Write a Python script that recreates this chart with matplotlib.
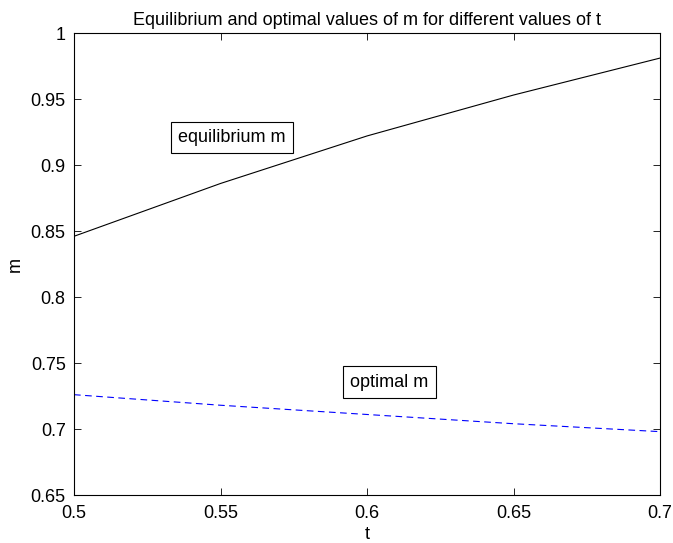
import matplotlib
matplotlib.use("Agg")
import matplotlib.pyplot as plt

plt.rcParams['font.family'] = ['Liberation Sans', 'DejaVu Sans']

t = [0.5, 0.55, 0.6, 0.65, 0.7]
m_equilibrium = [0.846, 0.886, 0.922, 0.953, 0.981]
m_optimal = [0.726, 0.718, 0.711, 0.704, 0.698]
xticks = [0.5, 0.55, 0.6, 0.65, 0.7]
yticks = [0.65, 0.7, 0.75, 0.8, 0.85, 0.9, 0.95, 1]

fig = plt.figure(figsize=(6.73, 5.43), dpi=100)
ax = fig.add_axes([74/673, 1-495/543, (660-74)/673, (495-33)/543])
ax.plot(t, m_equilibrium, color='black', lw=0.8)
ax.plot(t, m_optimal, color='blue', lw=0.8, dashes=(6, 4))
ax.set_xlim(0.5, 0.7)
ax.set_ylim(0.65, 1.0)
ax.set_xticks(xticks)
ax.set_xticklabels([f"{v:g}" for v in xticks])
ax.set_yticks(yticks)
ax.set_yticklabels([f"{v:g}" for v in yticks])
ax.tick_params(direction='in', top=True, right=True, labelsize=13, length=5, width=0.6)
ax.tick_params(axis='x', pad=7)
ax.tick_params(axis='y', pad=6)
for s in ax.spines.values():
    s.set_linewidth(0.8)
ax.set_xlabel('t', fontsize=13, labelpad=3)
ax.set_ylabel('m', fontsize=13, labelpad=5)
ax.set_title('Equilibrium and optimal values of m for different values of t', fontsize=13, pad=6)
box = dict(boxstyle='square,pad=0.4', facecolor='white', edgecolor='black', linewidth=0.8)
ax.text(0.5539, 0.9208, 'equilibrium m', fontsize=13, ha='center', va='center', bbox=box)
ax.text(0.6077, 0.7356, 'optimal m', fontsize=13, ha='center', va='center', bbox=box)
fig.savefig('out.png', dpi=100)
